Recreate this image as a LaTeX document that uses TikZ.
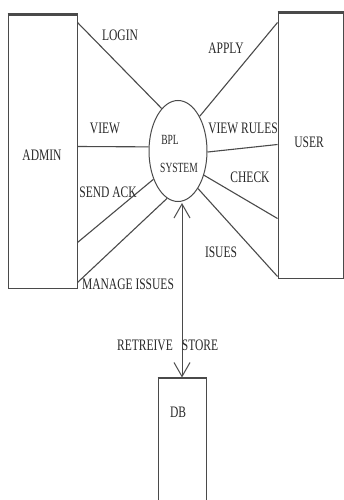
\documentclass[tikz,border=0pt]{standalone}
\usepackage{fontspec}
\setmainfont{Liberation Serif}
\usetikzlibrary{shapes.geometric,arrows.meta,calc}
\newcommand{\sq}[1]{\scalebox{0.72}[1]{#1}}
\newcommand{\sqs}[1]{\scalebox{0.68}[1]{#1}}
\definecolor{ln}{HTML}{4A4A4A}
\definecolor{tx}{HTML}{282828}
\tikzset{
  ent/.style={draw=ln, line width=1pt, inner sep=0pt},
  flow/.style={draw=ln, line width=1.1pt},
  lbl/.style={text=tx, inner sep=0pt, font=\fontsize{16}{16}\selectfont},
  slbl/.style={text=tx, inner sep=0pt, font=\fontsize{14}{14}\selectfont},
  barb/.style={draw=ln, line width=1pt, {Straight Barb[length=14pt,width=16pt]}-{Straight Barb[length=14pt,width=16pt]}}
}
\begin{document}
\begin{tikzpicture}[x=1pt,y=-1pt]
\useasboundingbox (0,0) rectangle (344,500);
% entities
\node[ent, minimum width=69pt, minimum height=273pt] (admin) at (42.5,151.5) {};
\draw[ln, line width=2.2pt] (admin.north west) -- (admin.north east);
\node[ent, minimum width=65pt, minimum height=265pt] (user) at (310.5,145.5) {};
\draw[ln, line width=2.2pt] (user.north west) -- (user.north east);
\node[ent, minimum width=48pt, minimum height=140pt] (db) at (182,448) {};
\draw[ln, line width=1.8pt] (db.north west) -- (db.north east);
\node[ent, ellipse, minimum width=58pt, minimum height=101pt] (sys) at (178,151) {};
% entity labels
\node[lbl] (tadmin) at (42,155) {\sq{ADMIN}};
\node[lbl] (tuser) at (309,142) {\sq{USER}};
\node[lbl] (tdb) at (178,412) {\sq{DB}};
\node[slbl] (tbpl) at (170,140) {\sqs{BPL}};
\node[slbl] (tsys) at (179,168) {\sqs{SYSTEM}};
% connection points
\coordinate (a1) at ($(admin.north east)+(0,8)$);
\coordinate (a2) at ($(admin.north east)+(0,132)$);
\coordinate (a3) at ($(admin.north east)+(0,228)$);
\coordinate (a4) at ($(admin.north east)+(0,268)$);
\coordinate (u1) at ($(user.north west)+(0,10)$);
\coordinate (u2) at ($(user.north west)+(0,132)$);
\coordinate (u3) at ($(user.north west)+(0,206)$);
\coordinate (u4) at ($(user.north west)+(0,264)$);
% flows
\draw[flow] (a1) -- (sys.111);
\draw[flow] (a2) -- (sys.172);
\draw[flow] (a3) -- (sys.229);
\draw[flow] (a4) -- (sys.257);
\draw[flow] (sys.58) -- (u1);
\draw[flow] (sys.358) -- (u2);
\draw[flow] (sys.317) -- (u3);
\draw[flow] (sys.298) -- (u4);
\coordinate (sb) at (db.north |- sys.south);
\draw[barb] ($(sb)+(0,1)$) -- (db.north);
% flow labels
\node[lbl] (llogin) at (120,35) {\sq{LOGIN}};
\node[lbl] (lview) at (105,128) {\sq{VIEW}};
\node[lbl] (lsend) at (108,192) {\sq{SEND ACK}};
\node[lbl] (lmanage) at (128,284) {\sq{MANAGE ISSUES}};
\node[lbl] (lapply) at (226,48) {\sq{APPLY}};
\node[lbl] (lrules) at (243,128) {\sq{VIEW RULES}};
\node[lbl] (lcheck) at (250,177) {\sq{CHECK}};
\node[lbl] (lissues) at (221,252) {\sq{ISUES}};
\node[lbl] (lret) at (145,345) {\sq{RETREIVE}};
\node[lbl] (lstore) at (200,345) {\sq{STORE}};
\end{tikzpicture}
\end{document}
